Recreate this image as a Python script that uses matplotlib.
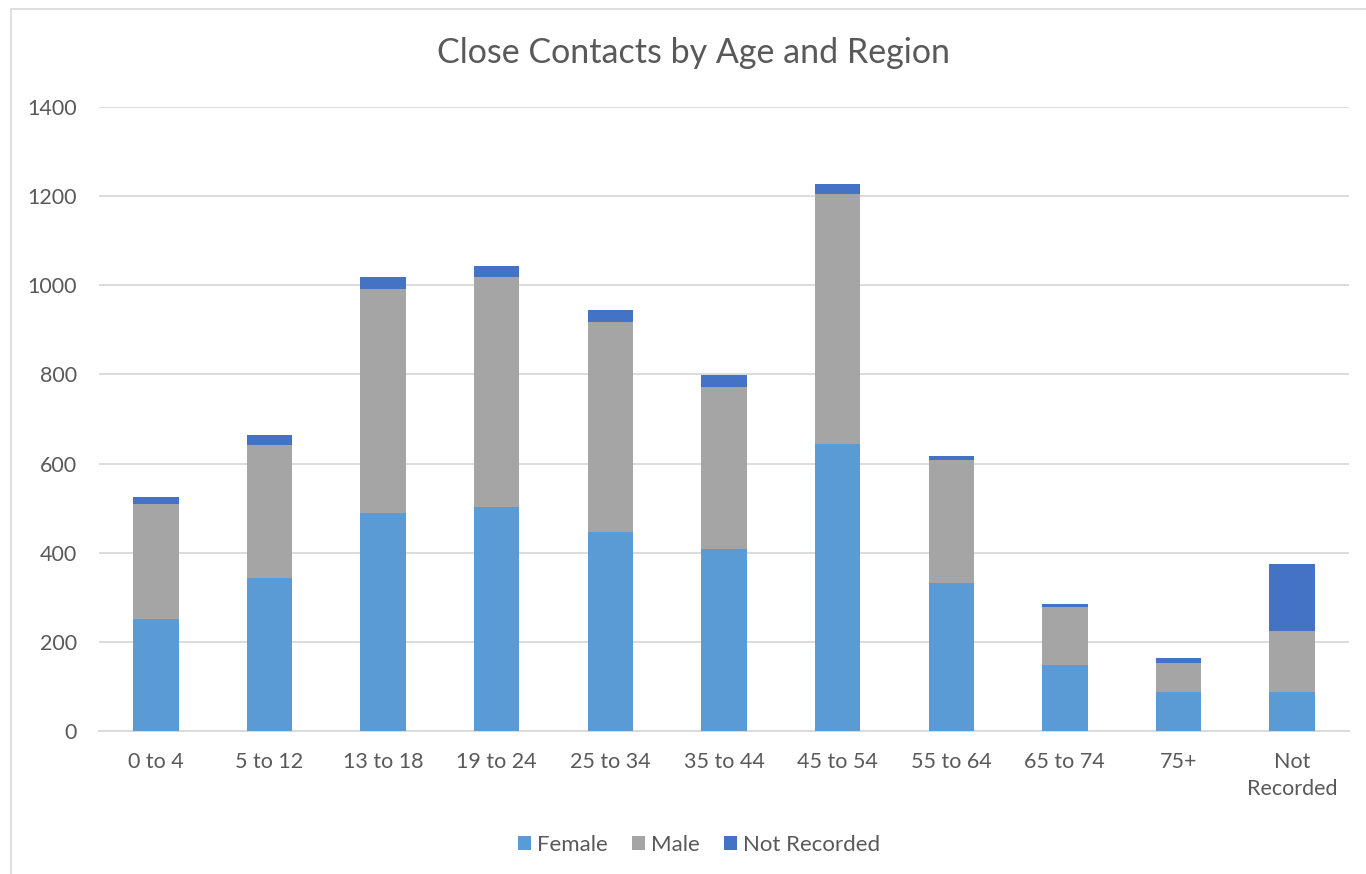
import matplotlib.pyplot as plt
from matplotlib.patches import Rectangle
import numpy as np

plt.rcParams['font.family'] = ['Lato', 'DejaVu Sans']

age_groups = ['0 to 4', '5 to 12', '13 to 18', '19 to 24', '25 to 34', '35 to 44',
              '45 to 54', '55 to 64', '65 to 74', '75+', 'Not\nRecorded']
female = [251, 344, 490, 502, 447, 408, 643, 333, 147, 88, 88]
male = [259, 298, 501, 516, 470, 364, 562, 275, 131, 65, 136]
not_recorded = [15, 21, 27, 26, 27, 26, 22, 10, 7, 10, 151]

text_color = '#595959'
grid_color = '#d9d9d9'

fig = plt.figure(figsize=(13.66, 8.74), dpi=100)
ax = fig.add_axes([0.0725, 0.1636, 0.915, 0.714])

x = np.arange(len(age_groups))
w = 0.4
female_arr = np.array(female)
male_arr = np.array(male)
ax.bar(x, female, w, color='#5b9bd5', label='Female', zorder=3)
ax.bar(x, male, w, bottom=female_arr, color='#a5a5a5', label='Male', zorder=3)
ax.bar(x, not_recorded, w, bottom=female_arr + male_arr, color='#4472c4',
       label='Not Recorded', zorder=3)

ax.set_xlim(-0.5, len(age_groups) - 0.5)
ax.set_ylim(0, 1400)
ax.set_yticks(range(0, 1401, 200))
ax.set_xticks(x)
ax.set_xticklabels(age_groups, linespacing=1.45)
ax.yaxis.grid(True, color=grid_color, linewidth=1.3, zorder=0)
for s in ['top', 'right', 'left']:
    ax.spines[s].set_visible(False)
ax.spines['bottom'].set_color(grid_color)
ax.spines['bottom'].set_linewidth(1.3)
ax.tick_params(length=0, labelsize=15.5, colors=text_color)
ax.tick_params(axis='y', pad=16)
ax.tick_params(axis='x', pad=15)

fig.text(0.508, 0.939, 'Close Contacts by Age and Region', ha='center', va='center',
         fontsize=24.5, color=text_color)

fig.legend(loc='center', bbox_to_anchor=(0.512, 1 - 845 / 874), ncol=3, frameon=False,
           fontsize=16, labelcolor=text_color, handlelength=0.55, handleheight=0.55,
           handletextpad=0.3, columnspacing=1.1)

# light chart-area border
fig.patches.append(Rectangle((11 / 1366, -0.05), 1.2, 1 - 9 / 874 + 0.05,
                             transform=fig.transFigure, fill=False,
                             edgecolor=grid_color, linewidth=1.2))

fig.savefig('out.png', dpi=100, facecolor='white')
